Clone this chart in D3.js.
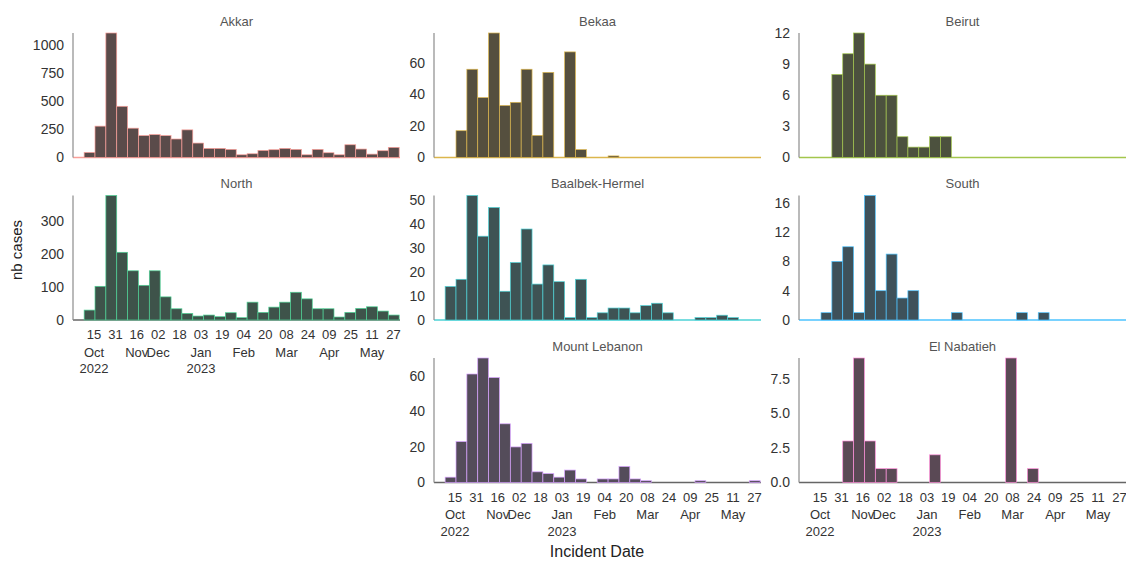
<!DOCTYPE html>
<html><head><meta charset="utf-8">
<script src="https://cdn.jsdelivr.net/npm/d3@7"></script>
<style>
body{margin:0;background:#fff;}
svg{display:block;font-family:"Liberation Sans",Arial,sans-serif;}
</style>
</head><body><svg id="chart" width="1126" height="563"></svg>
<script>
// ---------- data ----------
const regions = ["Akkar","Bekaa","Beirut","North","Baalbek-Hermel","South","Mount Lebanon","El Nabatieh"];
const regionColors = ["#F8766D","#CD9600","#7CAE00","#00BE67","#00BFC4","#00A9FF","#C77CFF","#FF61CC"];
// histogram bins (29 bins of 8.125 days, first bin starting 8 Oct 2022)
const binStart = "2022-10-08";
const binWidthDays = 8.125;
const akkar = [45,278,1104,454,260,194,203,194,164,245,128,81,81,72,24,33,63,69,81,72,24,72,42,24,113,75,30,60,90];
const bekaa = [0,17,56,38,79,33,35,56,14,54,0,67,5,0,0,1,0,0,0,0,0,0,0,0,0,0,0,0,0];
const beirut = [0,0,8,10,12,9,6,6,2,1,1,2,2,0,0,0,0,0,0,0,0,0,0,0,0,0,0,0,0];
const north = [30,102,377,205,149,105,149,70,34,20,12,15,10,22,7,54,23,39,54,84,64,34,34,9,23,35,40,27,15];
const baalbekHermel = [14,17,52,35,47,12,24,38,15,23,16,1,17,1,3,5,5,3,6,7,3,0,0,1,1,2,1,0,0];
const south = [0,1,8,10,1,17,4,9,3,4,0,0,0,1,0,0,0,0,0,1,0,1,0,0,0,0,0,0,0];
const mountLebanon = [3,23,61,70,59,33,20,22,6,5,3,7,2,0,2,2,9,2,1,0,0,0,0,1,0,0,0,0,1];
const elNabatieh = [0,0,0,3,9,3,1,1,0,0,0,2,0,0,0,0,0,0,9,0,1,0,0,0,0,0,0,0,0];
const seriesValues = [akkar,bekaa,beirut,north,baalbekHermel,south,mountLebanon,elNabatieh];
// y tick labels per panel
const yTicks = [[0,250,500,750,1000],[0,20,40,60],[0,3,6,9,12],[0,100,200,300],[0,10,20,30,40,50],[0,4,8,12,16],[0,20,40,60],[0,2.5,5,7.5]];
const yTickFormats = ["d","d","d","d","d","d","d",".1f"];
// x tick labels
const xTickDates = ["2022-10-15","2022-10-31","2022-11-16","2022-12-02","2022-12-18","2023-01-03","2023-01-19","2023-02-04","2023-02-20","2023-03-08","2023-03-24","2023-04-09","2023-04-25","2023-05-11","2023-05-27"];
const xTickDays = ["15","31","16","02","18","03","19","04","20","08","24","09","25","11","27"];
const xTickMonths = ["Oct","","Nov","Dec","","Jan","","Feb","","Mar","","Apr","","May",""];
const xTickYears = ["2022","","","","","2023","","","","","","","","",""];
const xDomain = ["2022-09-29T16:00:00Z","2023-06-01T06:00:00Z"];

// ---------- layout ----------
const svg = d3.select("#chart");
const colLeft = [73, 434, 799];
const rowTop = [33, 195.5, 358];
const pw = 327, ph = 124.5;
const grid = [[0,0],[0,1],[0,2],[1,0],[1,1],[1,2],[2,1],[2,2]];
const showX = [false,false,false,true,false,false,true,true];

const parse = s => new Date(s.length > 10 ? s : s + "T00:00:00Z");
const x = d3.scaleUtc().domain(xDomain.map(parse)).range([0, pw]);
const b0 = parse(binStart);
const dayMs = 86400000;

regions.forEach((name, i) => {
  const [r, c] = grid[i];
  const g = svg.append("g").attr("transform", `translate(${colLeft[c]},${rowTop[r]})`);
  const vals = seriesValues[i];
  const y = d3.scaleLinear().domain([0, d3.max(vals)]).range([ph, 0]);
  const col = regionColors[i];
  const fill = d3.interpolateRgb("#464646", col)(0.11);
  const soft = d3.interpolateRgb(col, "#ffffff")(0.3);

  g.append("text").attr("x", pw/2).attr("y", -7.5).attr("text-anchor","middle")
    .attr("font-size", 13).attr("fill", "#555").text(name);

  const bins = vals.map((v, k) => ({
    v,
    s: new Date(b0.getTime() + k*binWidthDays*dayMs),
    e: new Date(b0.getTime() + (k+1)*binWidthDays*dayMs)
  }));

  // baseline
  g.append("line").attr("x1", 0).attr("x2", pw).attr("y1", ph).attr("y2", ph)
    .attr("stroke", showX[i] ? "#666" : soft).attr("stroke-width", 1.3);

  g.selectAll("rect.bar").data(bins.filter(d => d.v > 0)).join("rect")
    .attr("class","bar")
    .attr("x", d => x(d.s)).attr("width", d => x(d.e) - x(d.s))
    .attr("y", d => y(d.v)).attr("height", d => y(0) - y(d.v))
    .attr("fill", fill).attr("stroke", soft).attr("stroke-width", 0.7);

  const ya = d3.axisLeft(y).tickValues(yTicks[i]).tickSize(0).tickPadding(9)
    .tickFormat(d3.format(yTickFormats[i]));
  const yg = g.append("g").call(ya);
  yg.select(".domain").remove();
  yg.selectAll("text").attr("font-size", 14).attr("fill", "#333")
    .attr("font-family", "Liberation Sans, Arial, sans-serif");
  g.append("line").attr("x1",0).attr("x2",0).attr("y1",0).attr("y2",ph)
    .attr("stroke", "#8c8c8c").attr("stroke-width", 1.2);

  if (showX[i]) {
    const xa = d3.axisBottom(x).tickValues(xTickDates.map(parse)).tickSize(0).tickFormat(() => "");
    const xg = g.append("g").attr("transform", `translate(0,${ph})`).call(xa);
    xg.select(".domain").remove();
    xg.selectAll(".tick").each(function(d, k) {
      const t = d3.select(this).select("text");
      t.attr("font-size", 13).attr("fill", "#333").attr("y", 0).attr("dy", null)
        .attr("font-family", "Liberation Sans, Arial, sans-serif");
      t.append("tspan").attr("x", 0).attr("y", 19).text(xTickDays[k]);
      if (xTickMonths[k]) t.append("tspan").attr("x", 0).attr("y", 36.5).text(xTickMonths[k]);
      if (xTickYears[k]) t.append("tspan").attr("x", 0).attr("y", 53).text(xTickYears[k]);
    });
  }
});

svg.append("text").attr("transform", "translate(22,250) rotate(-90)")
  .attr("text-anchor","middle").attr("font-size", 15).attr("fill","#222").text("nb cases");
svg.append("text").attr("x", 597).attr("y", 557).attr("text-anchor","middle")
  .attr("font-size", 16).attr("fill","#222").text("Incident Date");
</script>
</body></html>
